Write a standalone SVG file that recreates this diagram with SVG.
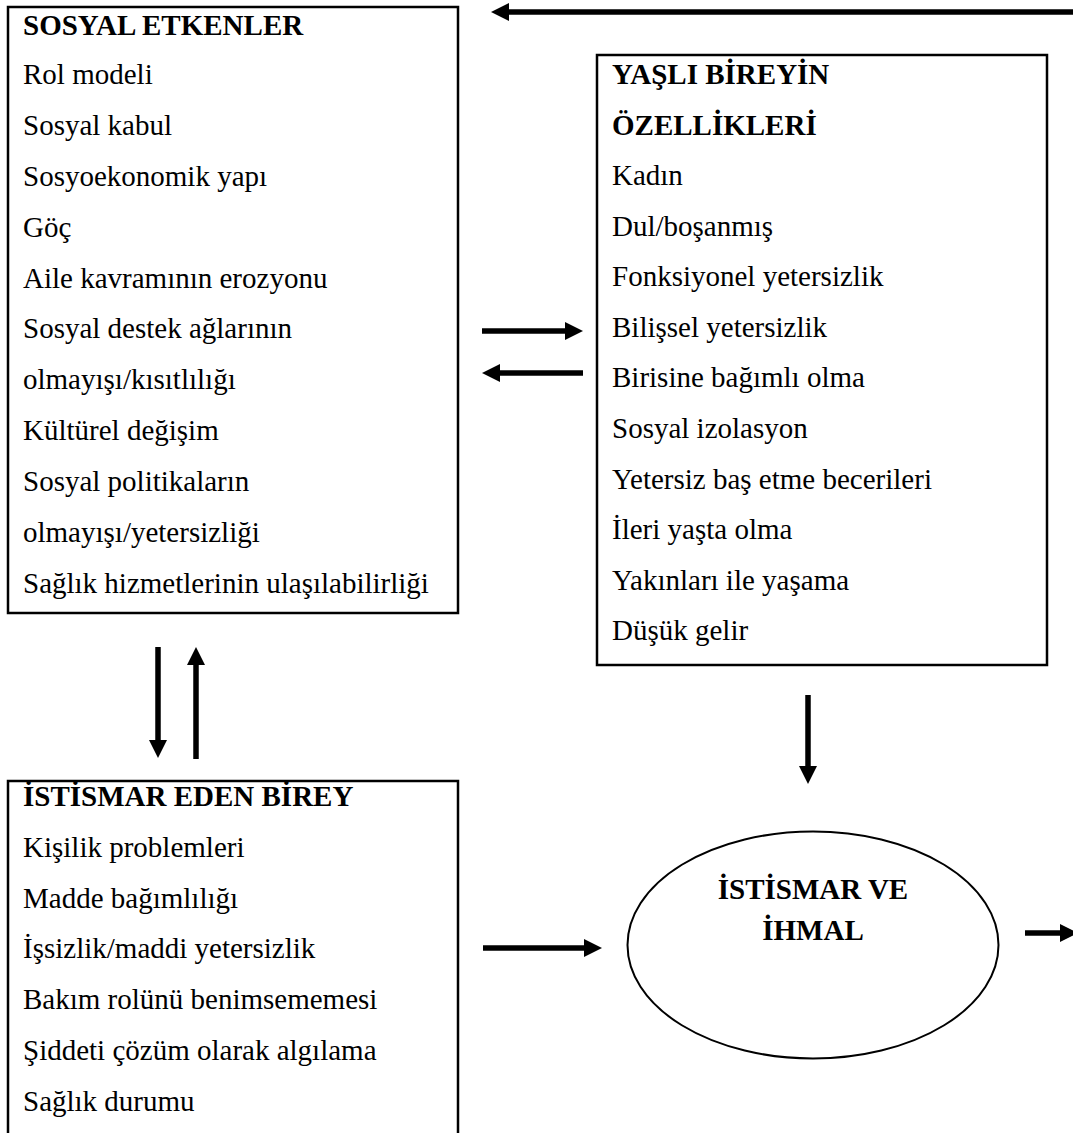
<svg xmlns="http://www.w3.org/2000/svg" width="1073" height="1133" viewBox="0 0 1073 1133">
<style>
  .box{fill:#fff;stroke:#000;stroke-width:2.5}
  .ell{fill:#fff;stroke:#000;stroke-width:2}
  text{font-family:"Liberation Serif","Times New Roman",serif;font-size:29px;fill:#000}
  .h{font-weight:bold}
  .c{text-anchor:middle}
  .arr{stroke:#000;stroke-width:5.5;fill:none;marker-end:url(#ah)}
</style>
<defs>
  <marker id="ah" markerUnits="userSpaceOnUse" markerWidth="18" markerHeight="18" refX="1" refY="9" orient="auto" overflow="visible">
    <path d="M0,0 L18,9 L0,18 z" fill="#000"/>
  </marker>
</defs>
<rect width="1073" height="1133" fill="#fff"/>

<g id="sosyal-etkenler">
  <rect class="box" x="8" y="7" width="450" height="606"/>
  <text class="h" x="23" y="35">SOSYAL ETKENLER</text>
  <text x="23" y="84">Rol modeli</text>
  <text x="23" y="135">Sosyal kabul</text>
  <text x="23" y="186">Sosyoekonomik yapı</text>
  <text x="23" y="237">Göç</text>
  <text x="23" y="288">Aile kavramının erozyonu</text>
  <text x="23" y="338">Sosyal destek ağlarının</text>
  <text x="23" y="389">olmayışı/kısıtlılığı</text>
  <text x="23" y="440">Kültürel değişim</text>
  <text x="23" y="491">Sosyal politikaların</text>
  <text x="23" y="542">olmayışı/yetersizliği</text>
  <text x="23" y="593">Sağlık hizmetlerinin ulaşılabilirliği</text>
</g>

<g id="yasli-bireyin-ozellikleri">
  <rect class="box" x="597" y="55" width="450" height="610"/>
  <text class="h" x="612" y="84">YAŞLI BİREYİN</text>
  <text class="h" x="612" y="135">ÖZELLİKLERİ</text>
  <text x="612" y="185">Kadın</text>
  <text x="612" y="236">Dul/boşanmış</text>
  <text x="612" y="286">Fonksiyonel yetersizlik</text>
  <text x="612" y="337">Bilişsel yetersizlik</text>
  <text x="612" y="387">Birisine bağımlı olma</text>
  <text x="612" y="438">Sosyal izolasyon</text>
  <text x="612" y="489">Yetersiz baş etme becerileri</text>
  <text x="612" y="539">İleri yaşta olma</text>
  <text x="612" y="590">Yakınları ile yaşama</text>
  <text x="612" y="640">Düşük gelir</text>
</g>

<g id="istismar-eden-birey">
  <rect class="box" x="8" y="781" width="450" height="370"/>
  <text class="h" x="23" y="806">İSTİSMAR EDEN BİREY</text>
  <text x="23" y="857">Kişilik problemleri</text>
  <text x="23" y="908">Madde bağımlılığı</text>
  <text x="23" y="958">İşsizlik/maddi yetersizlik</text>
  <text x="23" y="1009">Bakım rolünü benimsememesi</text>
  <text x="23" y="1060">Şiddeti çözüm olarak algılama</text>
  <text x="23" y="1111">Sağlık durumu</text>
</g>

<g id="istismar-ve-ihmal">
  <ellipse class="ell" cx="813" cy="945" rx="185.5" ry="113.5"/>
  <text class="h c" x="813" y="899">İSTİSMAR VE</text>
  <text class="h c" x="813" y="940">İHMAL</text>
</g>

<g id="connectors">
  <line class="arr" x1="1080" y1="12" x2="508" y2="12"/>
  <line class="arr" x1="482" y1="331" x2="566" y2="331"/>
  <line class="arr" x1="583" y1="373" x2="499" y2="373"/>
  <line class="arr" x1="158" y1="647" x2="158" y2="741"/>
  <line class="arr" x1="196" y1="759" x2="196" y2="664"/>
  <line class="arr" x1="808" y1="695" x2="808" y2="767"/>
  <line class="arr" x1="483" y1="948" x2="585" y2="948"/>
  <line class="arr" x1="1025" y1="933" x2="1061" y2="933"/>
</g>
</svg>
